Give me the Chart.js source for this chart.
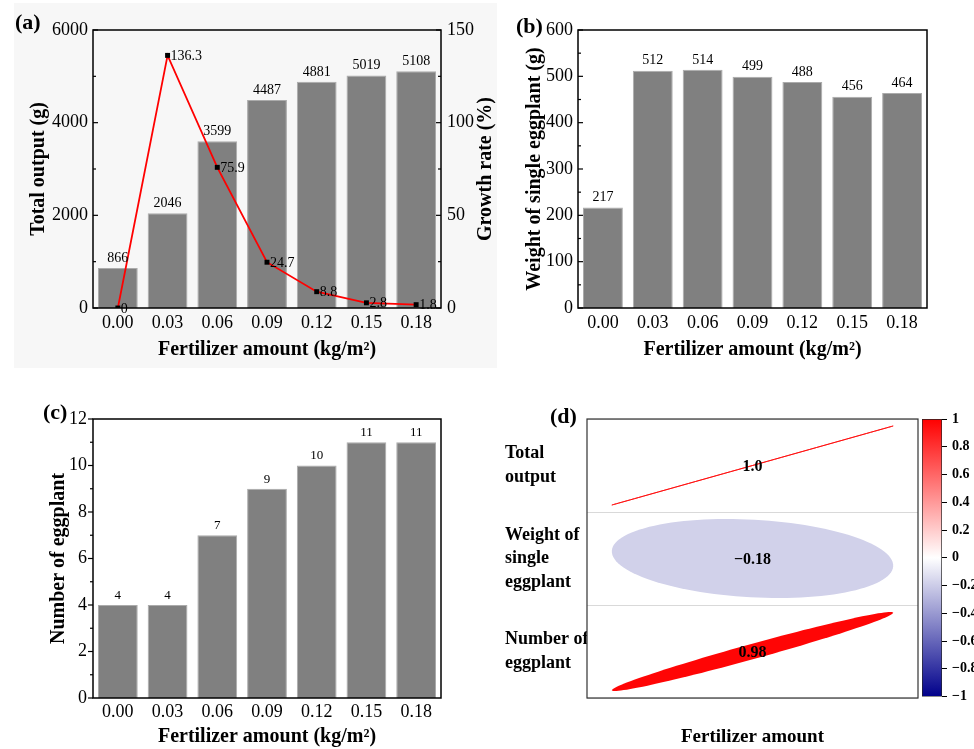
<!DOCTYPE html>
<html>
<head>
<meta charset="utf-8">
<script src="https://cdn.jsdelivr.net/npm/chart.js@4.4.1/dist/chart.umd.min.js"></script>
<style>
html, body { margin: 0; padding: 0; background: #fff; }
#wrap { position: relative; width: 974px; height: 749px; overflow: hidden; }
canvas { position: absolute; }
#bgA { position: absolute; left: 14px; top: 3px; width: 483px; height: 365px; background: #f7f7f7; }
</style>
</head>
<body>
<div id="wrap">
  <div id="bgA"></div>
  <canvas id="cA" width="497" height="370" style="left:0;top:0;width:497px;height:370px"></canvas>
  <canvas id="cB" width="477" height="370" style="left:497px;top:0;width:477px;height:370px"></canvas>
  <canvas id="cC" width="490" height="379" style="left:0;top:370px;width:490px;height:379px"></canvas>
  <canvas id="cD" width="484" height="379" style="left:490px;top:370px;width:484px;height:379px"></canvas>
  <canvas id="cE" width="74" height="310" style="left:900px;top:400px;width:74px;height:310px"></canvas>
</div>
<script>
'use strict';

// fertilizer doses (kg/m2)
const doses = ['0.00', '0.03', '0.06', '0.09', '0.12', '0.15', '0.18'];
const totalOutput = [866, 2046, 3599, 4487, 4881, 5019, 5108];
const growthRate = [0, 136.3, 75.9, 24.7, 8.8, 2.8, 1.8];
const singleWeight = [217, 512, 514, 499, 488, 456, 464];
const fruitCount = [4, 4, 7, 9, 10, 11, 11];

// correlation with fertilizer amount
const corrRows = ['Total output', 'Weight of single eggplant', 'Number of eggplant'];
const corrRowLines = [['Total', 'output'], ['Weight of', 'single', 'eggplant'], ['Number of', 'eggplant']];
const corrValues = [1.0, -0.18, 0.98];
const corrText = ['1.0', '\u22120.18', '0.98'];

const SERIF = "'Liberation Serif', 'Times New Roman', serif";
Chart.defaults.font.family = SERIF;
Chart.defaults.color = '#000';

const xTitle = 'Fertilizer amount (kg/m\u00b2)';

// box, inward/outward ticks, value labels, panel tag
const decor = {
  id: 'decor',
  afterDatasetsDraw(chart, args, opts) {
    const ctx = chart.ctx;
    ctx.save();
    ctx.fillStyle = '#000';
    chart.data.datasets.forEach((ds, di) => {
      const meta = chart.getDatasetMeta(di);
      if (meta.type === 'bar' && opts.barLabels) {
        ctx.font = opts.barLabelSize + 'px ' + SERIF;
        ctx.textAlign = 'center';
        ctx.textBaseline = 'bottom';
        meta.data.forEach((el, i) => ctx.fillText(String(ds.data[i]), el.x, el.y - 3));
      }
      if (meta.type === 'line') {
        ctx.font = '14px ' + SERIF;
        ctx.textAlign = 'left';
        ctx.textBaseline = 'middle';
        meta.data.forEach((el, i) => ctx.fillText(String(ds.data[i]), el.x + 3, el.y + 1));
      }
    });
    ctx.restore();
  },
  afterDraw(chart, args, opts) {
    const ctx = chart.ctx, a = chart.chartArea;
    ctx.save();
    ctx.strokeStyle = opts.boxColor || '#000';
    ctx.lineWidth = opts.boxWidth || 1.5;
    ctx.strokeRect(a.left, a.top, a.right - a.left, a.bottom - a.top);

    ctx.strokeStyle = '#000';
    ctx.lineWidth = 1.2;
    (opts.axes || []).forEach(id => {
      const s = chart.scales[id];
      const left = s.position === 'left';
      const x0 = left ? a.left : a.right;
      const sign = (left ? 1 : -1) * opts.dir;
      const vals = s.ticks.map(t => t.value);
      vals.forEach((v, i) => {
        const y = s.getPixelForValue(v);
        ctx.beginPath(); ctx.moveTo(x0, y); ctx.lineTo(x0 + sign * 5, y); ctx.stroke();
        if (i < vals.length - 1) {
          const ym = s.getPixelForValue((v + vals[i + 1]) / 2);
          ctx.beginPath(); ctx.moveTo(x0, ym); ctx.lineTo(x0 + sign * 3, ym); ctx.stroke();
        }
      });
    });

    if (opts.rightTitle) {
      ctx.font = 'bold 20px ' + SERIF;
      ctx.fillStyle = '#000';
      ctx.textAlign = 'center';
      ctx.textBaseline = 'middle';
      ctx.translate(opts.rightTitleX, (a.top + a.bottom) / 2);
      ctx.rotate(-Math.PI / 2);
      ctx.fillText(opts.rightTitle, 0, 0);
      ctx.setTransform(1, 0, 0, 1, 0, 0);
    }

    ctx.font = 'bold 22px ' + SERIF;
    ctx.fillStyle = '#000';
    ctx.textAlign = 'left';
    ctx.textBaseline = 'middle';
    ctx.fillText(opts.tag, opts.tagX, opts.tagY);
    ctx.restore();
  }
};

function corrColor(r) {
  if (r >= 0) {
    const c = Math.round(255 * (1 - r));
    return 'rgb(255,' + c + ',' + c + ')';
  }
  const t = -r;
  const c = Math.round(255 * (1 - t));
  return 'rgb(' + c + ',' + c + ',' + Math.round(255 - 116 * t) + ')';
}

// corrplot-style ellipse glyphs
const corrGlyphs = {
  id: 'corrGlyphs',
  afterDatasetsDraw(chart) {
    const ctx = chart.ctx, xs = chart.scales.x, ys = chart.scales.y;
    const meta = chart.getDatasetMeta(0);
    const hw = 0.425 * Math.abs(xs.getPixelForValue(1) - xs.getPixelForValue(0));
    const hh = 0.425 * Math.abs(ys.getPixelForValue(1) - ys.getPixelForValue(0));
    ctx.save();
    meta.data.forEach((pt, i) => {
      const r = corrValues[i];
      const d = Math.acos(Math.max(-1, Math.min(1, r)));
      ctx.beginPath();
      for (let k = 0; k <= 120; k++) {
        const t = 2 * Math.PI * k / 120;
        const px = pt.x + hw * Math.cos(t + d / 2);
        const py = pt.y - hh * Math.cos(t - d / 2);
        if (k === 0) ctx.moveTo(px, py); else ctx.lineTo(px, py);
      }
      ctx.closePath();
      if (Math.abs(r) > 0.999) {
        ctx.strokeStyle = corrColor(r);
        ctx.lineWidth = 0.8;
        ctx.stroke();
      } else {
        ctx.fillStyle = corrColor(r);
        ctx.fill();
      }
      ctx.font = 'bold 16px ' + SERIF;
      ctx.fillStyle = '#000';
      ctx.textAlign = 'center';
      ctx.textBaseline = 'middle';
      ctx.fillText(corrText[i], pt.x, pt.y + 1);
    });
    ctx.restore();
  }
};

const baseOpts = { responsive: false, animation: false, events: [] };

function xScale(height, tickPad, titlePad) {
  return {
    grid: { display: false, drawTicks: false },
    border: { display: false },
    ticks: { font: { size: 18 }, padding: tickPad, maxRotation: 0, autoSkip: false },
    title: { display: true, text: xTitle, font: { size: 20, weight: 'bold' }, padding: { top: 0, bottom: titlePad } },
    afterFit: s => { s.height = height; }
  };
}

function yScale(max, step, width, title, pad) {
  return {
    min: 0, max: max,
    ticks: { stepSize: step, font: { size: 18 }, padding: pad, callback: v => String(v) },
    grid: { display: false, drawTicks: false },
    border: { display: false },
    title: { display: true, text: title, font: { size: 20, weight: 'bold' }, padding: { top: 0, bottom: 0 } },
    afterFit: s => { s.width = width; }
  };
}

function barSet(label, data) {
  return {
    label: label, data: data, yAxisID: 'y',
    backgroundColor: '#808080', borderColor: '#ababab', borderWidth: 1,
    barPercentage: 0.8, categoryPercentage: 1, order: 1
  };
}

// (a) total output + growth rate
new Chart(document.getElementById('cA'), {
  type: 'bar',
  data: {
    labels: doses,
    datasets: [
      {
        type: 'line', label: 'Growth rate', data: growthRate, yAxisID: 'y1',
        borderColor: '#ff0000', borderWidth: 1.8, tension: 0,
        pointStyle: 'rect', pointRadius: 3.5, pointBackgroundColor: '#000',
        pointBorderColor: '#000', pointBorderWidth: 0, order: 0
      },
      barSet('Total output', totalOutput)
    ]
  },
  options: Object.assign({}, baseOpts, {
    layout: { padding: { left: 27, right: 0, top: 30, bottom: 0 } },
    plugins: {
      legend: { display: false }, tooltip: { enabled: false },
      decor: { tag: '(a)', tagX: 15, tagY: 23, dir: 1, axes: ['y', 'y1'], barLabels: true, barLabelSize: 14,
               rightTitle: 'Growth rate (%)', rightTitleX: 486 }
    },
    scales: {
      x: xScale(62, 4, 8),
      y: yScale(6000, 2000, 66, 'Total output (g)', 5),
      y1: {
        position: 'right', min: 0, max: 150,
        ticks: { stepSize: 50, font: { size: 18 }, padding: 6, callback: v => String(v) },
        grid: { display: false, drawTicks: false },
        border: { display: false },
        afterFit: s => { s.width = 56; }
      }
    }
  }),
  plugins: [decor]
});

// (b) weight of single eggplant
new Chart(document.getElementById('cB'), {
  type: 'bar',
  data: { labels: doses, datasets: [barSet('Weight of single eggplant', singleWeight)] },
  options: Object.assign({}, baseOpts, {
    layout: { padding: { left: 26, right: 47, top: 30, bottom: 0 } },
    plugins: {
      legend: { display: false }, tooltip: { enabled: false },
      decor: { tag: '(b)', tagX: 19, tagY: 27, dir: 1, axes: ['y'], barLabels: true, barLabelSize: 14 }
    },
    scales: {
      x: xScale(62, 4, 8),
      y: yScale(600, 100, 55, 'Weight of single eggplant (g)', 5)
    }
  }),
  plugins: [decor]
});

// (c) number of eggplant
new Chart(document.getElementById('cC'), {
  type: 'bar',
  data: { labels: doses, datasets: [barSet('Number of eggplant', fruitCount)] },
  options: Object.assign({}, baseOpts, {
    layout: { padding: { left: 47, right: 49, top: 49, bottom: 0 } },
    plugins: {
      legend: { display: false }, tooltip: { enabled: false },
      decor: { tag: '(c)', tagX: 43, tagY: 43, dir: -1, axes: ['y'], barLabels: true, barLabelSize: 13 }
    },
    scales: {
      x: xScale(51, 3, 0),
      y: yScale(12, 2, 46, 'Number of eggplant', 6)
    }
  }),
  plugins: [decor]
});

// (d) correlation with fertilizer amount
new Chart(document.getElementById('cD'), {
  type: 'scatter',
  data: { datasets: [{ label: 'r', data: corrRows.map(r => ({ x: 0.5, y: r })), pointRadius: 0 }] },
  options: Object.assign({}, baseOpts, {
    layout: { padding: { left: 15, right: 56, top: 49, bottom: 0 } },
    plugins: {
      legend: { display: false }, tooltip: { enabled: false },
      decor: { tag: '(d)', tagX: 60, tagY: 47, dir: 1, axes: [], boxColor: '#333', boxWidth: 1.2 }
    },
    scales: {
      x: {
        type: 'linear', min: 0, max: 1,
        ticks: { display: false },
        grid: { display: false, drawTicks: false },
        border: { display: false },
        title: { display: true, text: 'Fertilizer amount', font: { size: 19, weight: 'bold' }, padding: { top: 0, bottom: 1 } },
        afterFit: s => { s.height = 51; }
      },
      y: {
        type: 'category', labels: corrRows, offset: true,
        grid: { offset: true, color: '#d9d9d9', drawTicks: false },
        border: { display: false },
        ticks: { crossAlign: 'far', padding: 0, font: { size: 18, weight: 'bold', lineHeight: 1.3 },
                 callback: (v, i) => corrRowLines[i] },
        afterFit: s => { s.width = 82; }
      }
    }
  }),
  plugins: [corrGlyphs, decor]
});

// colour bar
new Chart(document.getElementById('cE'), {
  type: 'bar',
  data: {
    labels: [''],
    datasets: [{
      label: 'scale', data: [[-1, 1]],
      backgroundColor: c => {
        const a = c.chart.chartArea;
        if (!a) return '#fff';
        const g = c.chart.ctx.createLinearGradient(0, a.bottom, 0, a.top);
        g.addColorStop(0, '#00008b');
        g.addColorStop(0.5, '#ffffff');
        g.addColorStop(1, '#ff0000');
        return g;
      },
      borderColor: '#222', borderWidth: 1, borderSkipped: false,
      barPercentage: 1, categoryPercentage: 1
    }]
  },
  options: Object.assign({}, baseOpts, {
    layout: { padding: { left: 22, right: 0, top: 19, bottom: 12 } },
    plugins: { legend: { display: false }, tooltip: { enabled: false } },
    scales: {
      x: { display: false },
      y: {
        position: 'right', min: -1, max: 1,
        ticks: {
          stepSize: 0.2, padding: 5, font: { size: 14, weight: 'bold' },
          callback: v => {
            const r = Math.round(v * 10) / 10;
            return r === 0 ? '0' : (r < 0 ? '\u2212' : '') + String(Math.abs(r));
          }
        },
        grid: { drawOnChartArea: false, drawTicks: true, tickLength: 5, color: '#000' },
        border: { display: false },
        afterFit: s => { s.width = 32; }
      }
    }
  })
});
</script>
</body>
</html>
